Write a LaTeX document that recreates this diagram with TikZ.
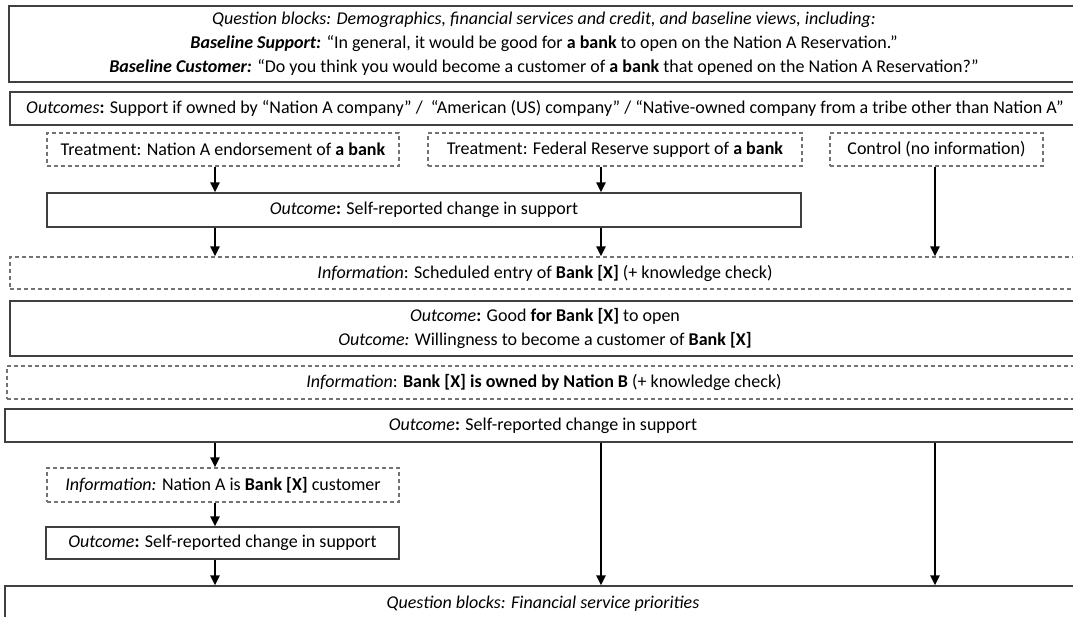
\documentclass[tikz,border=0pt]{standalone}
\usepackage{fontspec}
\setmainfont{Carlito}
\usetikzlibrary{arrows.meta}

\begin{document}
\begin{tikzpicture}[x=1pt,y=-1pt]
        \tikzset{box/.style = {draw=black!75, line width=1.2pt, inner sep=0pt, align=center, font=\fontsize{18}{24}\selectfont}}
        \tikzset{dbox/.style = {box, draw=black!55, dash pattern=on 4pt off 3pt}}
        \tikzset{arr/.style = {-{Triangle[length=10pt,width=9pt]}, line width=2.5pt}}

        \useasboundingbox (0,0) rectangle (1073,617);

        \node[box, minimum width=1070pt, minimum height=76pt] (qStart) at (544,44) {\textit{Question blocks: Demographics, financial services and credit, and baseline views, including:}\\
                \textbf{\textit{Baseline Support:}} “In general, it would be good for \textbf{a bank} to open on the Nation A Reservation.”\\
                \textbf{\textit{Baseline Customer:}} “Do you think you would become a customer of \textbf{a bank} that opened on the Nation A Reservation?”};
        \node[box, minimum width=1070pt, minimum height=33pt] (outOwn) at (545,108.5) {\textit{Outcomes}\textbf{:} Support if owned by “Nation A company” /~ “American (US) company” / “Native-owned company from a tribe other than Nation A”};

        \node[dbox, minimum width=352pt, minimum height=33pt] (tA) at (223,149.5) {Treatment: Nation A endorsement of \textbf{a bank}};
        \node[dbox, minimum width=374pt, minimum height=33pt] (tFed) at (615,149.5) {Treatment: Federal Reserve support of \textbf{a bank}};
        \node[dbox, minimum width=213pt, minimum height=33pt] (ctrl) at (936.5,149.5) {Control (no information)};

        \node[box, minimum width=754pt, minimum height=34pt] (out1) at (424,210) {\textit{Outcome}\textbf{:} Self-reported change in support};
        \node[dbox, minimum width=1070pt, minimum height=32pt] (info1) at (545,273) {\textit{Information}: Scheduled entry of \textbf{Bank [X]} (+ knowledge check)};
        \node[box, minimum width=1070pt, minimum height=55pt] (good) at (545,328.5) {\textit{Outcome}\textbf{:} Good \textbf{for Bank [X]} to open\\
                \textit{Outcome:} Willingness to become a customer of \textbf{Bank [X]}};
        \node[dbox, minimum width=1074pt, minimum height=33pt] (info2) at (544,382.5) {\textit{Information}: \textbf{Bank [X] is owned by Nation B} (+ knowledge check)};
        \node[box, minimum width=1076pt, minimum height=33pt] (out2) at (543,425.5) {\textit{Outcome}\textbf{:} Self-reported change in support};

        \node[dbox, minimum width=352pt, minimum height=34pt] (infoA) at (223,485) {\textit{Information:} Nation A is \textbf{Bank [X]} customer};
        \node[box, minimum width=353pt, minimum height=32pt] (outA) at (222.5,543) {\textit{Outcome}\textbf{:} Self-reported change in support};
        \node[box, minimum width=1076pt, minimum height=36pt] (qEnd) at (543,604) {\textit{Question blocks: Financial service priorities}};

        % columns for the arrows
        \coordinate (colA) at (215,0);
        \coordinate (colB) at (601,0);
        \coordinate (colC) at (935,0);

        % arrows
        \draw[arr] (tA.south -| colA) -- (out1.north -| colA);
        \draw[arr] (tFed.south -| colB) -- (out1.north -| colB);
        \draw[arr] (ctrl.south -| colC) -- (info1.north -| colC);
        \draw[arr] (out1.south -| colA) -- (info1.north -| colA);
        \draw[arr] (out1.south -| colB) -- (info1.north -| colB);

        \draw[arr] (out2.south -| colA) -- (infoA.north -| colA);
        \draw[arr] (infoA.south -| colA) -- (outA.north -| colA);
        \draw[arr] (outA.south -| colA) -- (qEnd.north -| colA);
        \draw[arr] (out2.south -| colB) -- (qEnd.north -| colB);
        \draw[arr] (out2.south -| colC) -- (qEnd.north -| colC);

\end{tikzpicture}
\end{document}
